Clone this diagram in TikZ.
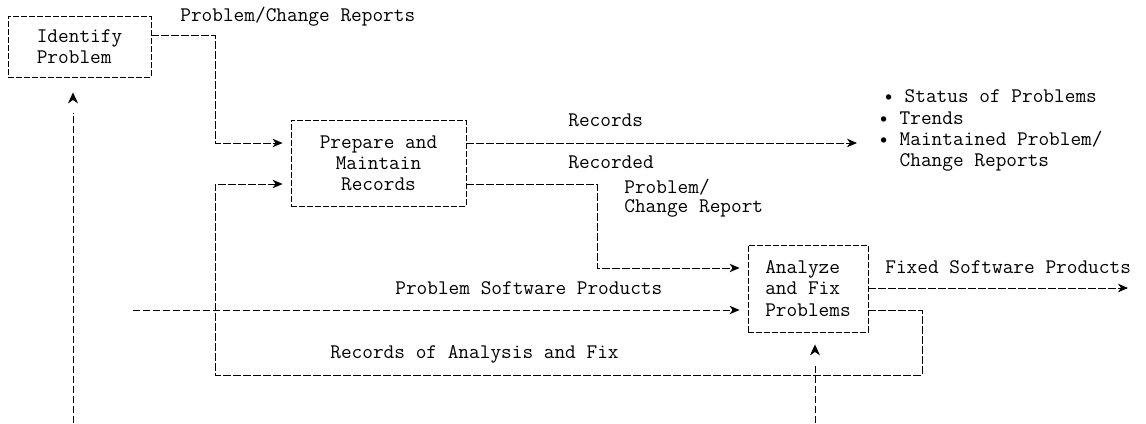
\documentclass[tikz,border=0pt]{standalone}
\usetikzlibrary{arrows.meta}

\begin{document}
\begin{tikzpicture}[
    x=0.02cm, y=-0.02cm,
    >={Stealth[length=0.2cm, width=0.17cm, inset=0.06cm]},
    every node/.style={font=\ttfamily\fontsize{11.8pt}{12pt}\selectfont},
    box/.style={draw, dash pattern=on 0.12cm off 0.04cm, line width=0.5pt, align=left, inner sep=0pt},
    flow/.style={dash pattern=on 0.15cm off 0.05cm, line width=0.55pt},
    tiponly/.style={-{Stealth[length=0.22cm, width=0.2cm, inset=0.07cm]}, line width=0.55pt, dash pattern=on 0pt off 1cm},
    lbl/.style={anchor=base west, inner sep=0pt}
  ]
    \useasboundingbox (0,0) rectangle (1146,423);

    % Boxes
    \node[box, minimum width=2.86cm, minimum height=1.22cm] (idp) at (79.5,46.5) {Identify\\Problem};
    \node[box, minimum width=3.5cm, minimum height=1.72cm, align=center] (ppr) at (378.5,163) {Prepare and\\Maintain\\Records};
    \node[box, minimum width=2.4cm, minimum height=1.74cm] (afp) at (808,288.5) {Analyze\\and Fix\\Problems};

    % Labels
    \node[lbl] (pcr) at (180,21) {Problem/Change Reports};
    \node[lbl] (rec) at (568,126) {Records};
    \node[lbl] (rcd) at (568,168) {Recorded};
    \node[lbl] (rcp) at (624,193) {Problem/};
    \node[lbl] (rcc) at (624,212) {Change Report};
    \node[lbl] (psp) at (395,294) {Problem Software Products};
    \node[lbl] (fsp) at (885,273) {Fixed Software Products};
    \node[lbl] (raf) at (330,358) {Records of Analysis and Fix};
    \node[anchor=west, align=left, inner sep=0pt] (lst) at (878,130.5)
      {\hspace*{0.1cm}\textbullet{} Status of Problems\\\textbullet{} Trends\\\textbullet{} Maintained Problem/\\\phantom{\textbullet~}Change Reports};

    % Free ends
    \coordinate (psw) at (133,310);
    \coordinate (fsw) at (1128,288);
    \coordinate (in1) at (73,423);
    \coordinate (in1top) at (73,113);
    \coordinate (in2) at (815,423);
    \coordinate (in2top) at (815,365);

    % Connections
    \draw[flow, ->, shorten >=0.16cm] (idp.east |- 0,35) -| (215,143) -- (ppr.west |- 0,143);
    \draw[flow, ->, shorten >=0.16cm] (afp.east |- 0,310) -| (922,375) -| (215,184) -- (ppr.west |- 0,184);
    \draw[flow, ->, shorten >=0.42cm] (ppr.east |- 0,143) -- (lst.west |- 0,143);
    \draw[flow, ->, shorten >=0.16cm] (ppr.east |- 0,184) -| (597,268) -- (afp.west |- 0,268);
    \draw[flow, ->, shorten >=0.16cm] (psw) -- (afp.west |- 0,310);
    \draw[flow, ->] (afp.east |- 0,288) -- (fsw);
    \draw[flow] (in1) -- (in1top);
    \draw[tiponly, shorten >=0.3cm] (in1top) -- (idp.south -| 73,0);
    \draw[flow] (in2) -- (in2top);
    \draw[tiponly, shorten >=0.24cm] (in2top) -- (afp.south -| 815,0);
\end{tikzpicture}
\end{document}
